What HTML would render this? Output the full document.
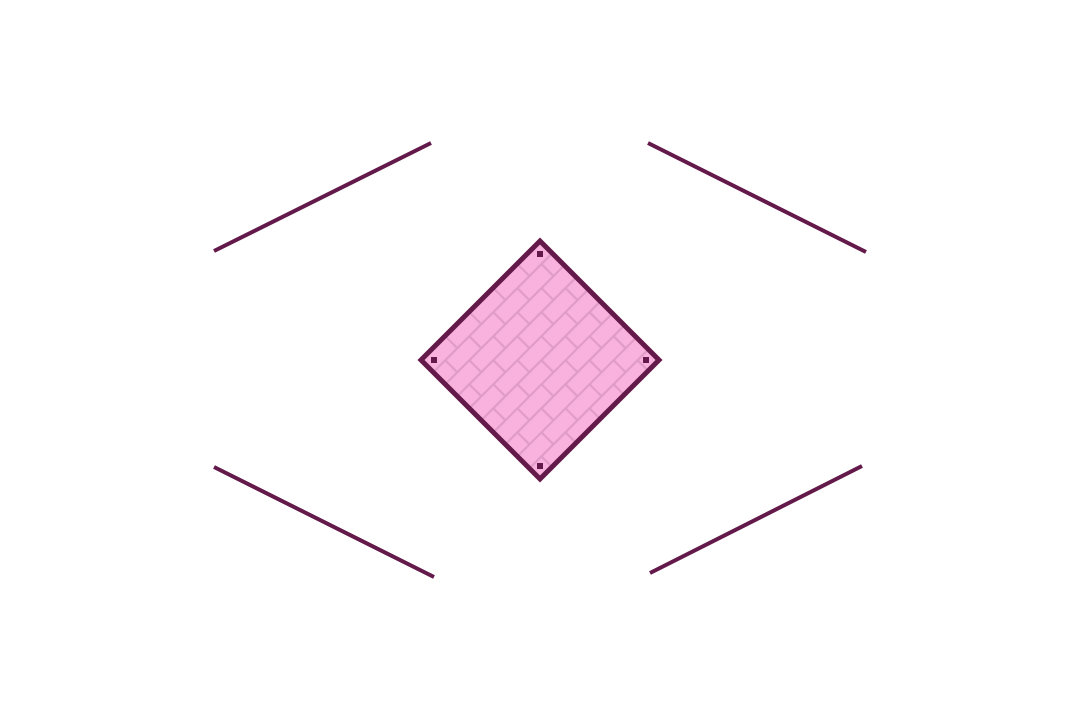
<!DOCTYPE html>
<html><head><meta charset="utf-8"><style>html,body{margin:0;padding:0;background:#fff}svg{display:block}</style></head>
<body>
<svg width="1080" height="720" viewBox="0 0 1080 720">
<defs>
<pattern id="brick" patternUnits="userSpaceOnUse" width="34" height="34" patternTransform="translate(540,240) rotate(-45)">
<rect width="34" height="34" fill="#f9b2dd"/>
<path d="M0 1H34 M0 18H34 M1 1V18 M18 18V34" stroke="#e09cc8" stroke-width="2.2" fill="none"/>
</pattern>
</defs>
<g stroke="#631a4a" stroke-width="4" stroke-linecap="butt">
<line x1="214" y1="251" x2="431" y2="143"/>
<line x1="648" y1="143" x2="866" y2="252"/>
<line x1="214" y1="467" x2="434" y2="577"/>
<line x1="650" y1="573" x2="862" y2="466"/>
</g>
<polygon points="540,241 659,360 540,479 421,360" fill="url(#brick)" stroke="#631a4a" stroke-width="5"/>
<g fill="#631a4a">
<rect x="537" y="251" width="6" height="6"/>
<rect x="431" y="357" width="6" height="6"/>
<rect x="643" y="357" width="6" height="6"/>
<rect x="537" y="463" width="6" height="6"/>
</g>
</svg>
</body></html>
